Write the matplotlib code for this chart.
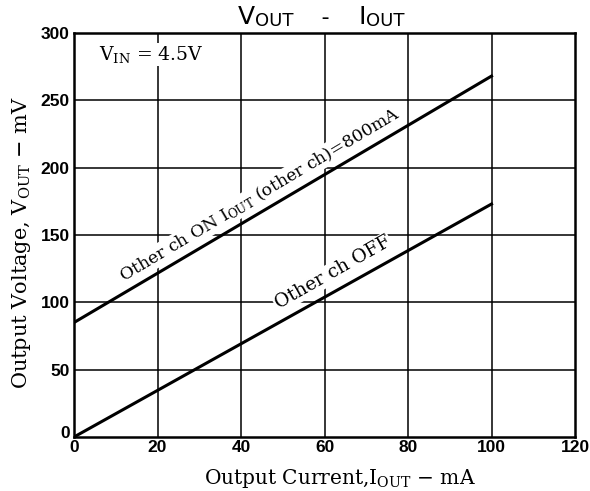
import matplotlib
matplotlib.use("Agg")
import matplotlib.pyplot as plt
from matplotlib.transforms import offset_copy

# data
iout_on = [0, 100]
vout_on = [85, 268]
iout_off = [0, 100]
vout_off = [0, 173]
xticks = [0, 20, 40, 60, 80, 100, 120]
yticks = [0, 50, 100, 150, 200, 250, 300]

fig = plt.figure(figsize=(5.9, 4.91), dpi=100)
ax = fig.add_axes([74/590, 1-437/491, (575-74)/590, (437-33)/491])
ax.set_xlim(0, 120)
ax.set_ylim(0, 300)

for x in xticks[1:-1]:
    ax.axvline(x, color='black', lw=1.1, zorder=1)
for y in yticks[1:-1]:
    ax.axhline(y, color='black', lw=1.1, zorder=1)

ax.plot(iout_on, vout_on, color='black', lw=2.2, zorder=3)
ax.plot(iout_off, vout_off, color='black', lw=2.2, zorder=3)

for s in ax.spines.values():
    s.set_linewidth(1.8)
ax.set_xticks(xticks)
ax.set_yticks(yticks)
ax.tick_params(axis='x', length=0, pad=2)
ax.tick_params(axis='y', length=0, pad=3)
for lab in ax.get_xticklabels() + ax.get_yticklabels():
    lab.set_fontweight('bold')
    lab.set_family('Liberation Sans')
    lab.set_fontsize(12.5)

# lift the "0" label of the y axis a little so it clears the x axis "0"
ylab0 = ax.get_yticklabels()[0]
ylab0.set_transform(offset_copy(ylab0.get_transform(), fig=fig, x=0, y=5, units='dots'))

serif = 'DejaVu Serif'
bbox = dict(facecolor='white', edgecolor='none', pad=1.0)

ax.text(6, 284, r"V$_{\mathrm{IN}}$ = 4.5V", family=serif, fontsize=13.5,
        math_fontfamily='dejavuserif', ha='left', va='center', bbox=bbox, zorder=2)

ax.text(44.5, 180, r"Other ch ON I$_{\mathrm{OUT}}$ (other ch)=800mA", family=serif,
        math_fontfamily='dejavuserif',
        fontsize=12.4, rotation=30.8, rotation_mode='anchor', ha='center', va='center',
        bbox=bbox, zorder=2)
ax.text(62, 122, "Other ch OFF", family=serif, fontsize=13.5, rotation=29.6,
        rotation_mode='anchor', ha='center', va='center', bbox=bbox, zorder=2)

ax.set_xlabel(r"Output Current,I$_{\mathrm{OUT}}$ $-$ mA", family=serif, fontsize=14.5,
              math_fontfamily='dejavuserif', labelpad=3)
ax.xaxis.set_label_coords((340-74)/(575-74), -0.075)
ax.set_ylabel(r"Output Voltage, V$_{\mathrm{OUT}}$ $-$ mV", family=serif, fontsize=15,
              math_fontfamily='dejavuserif')
ax.yaxis.set_label_coords(-(74-33)/(575-74), (437-243)/(437-33))

# title built from pieces: large capitals and smaller caps
pieces = [("V", 18, 0), ("OUT", 13, -2), ("    -    ", 16, 0), ("I", 18, 0), ("OUT", 13, -2)]
renderer = fig.canvas.get_renderer()
widths = []
for s, fs, dy in pieces:
    t = fig.text(0, 0, s, fontsize=fs, family='DejaVu Sans')
    widths.append(t.get_window_extent(renderer).width)
    t.remove()
total = sum(widths)
x0 = 321 - total / 2
ybase = 491 - 24
for (s, fs, dy), w in zip(pieces, widths):
    fig.text(x0 / 590, (ybase + dy) / 491, s, fontsize=fs, family='DejaVu Sans',
             ha='left', va='baseline')
    x0 += w

fig.savefig("out.png", dpi=100)
